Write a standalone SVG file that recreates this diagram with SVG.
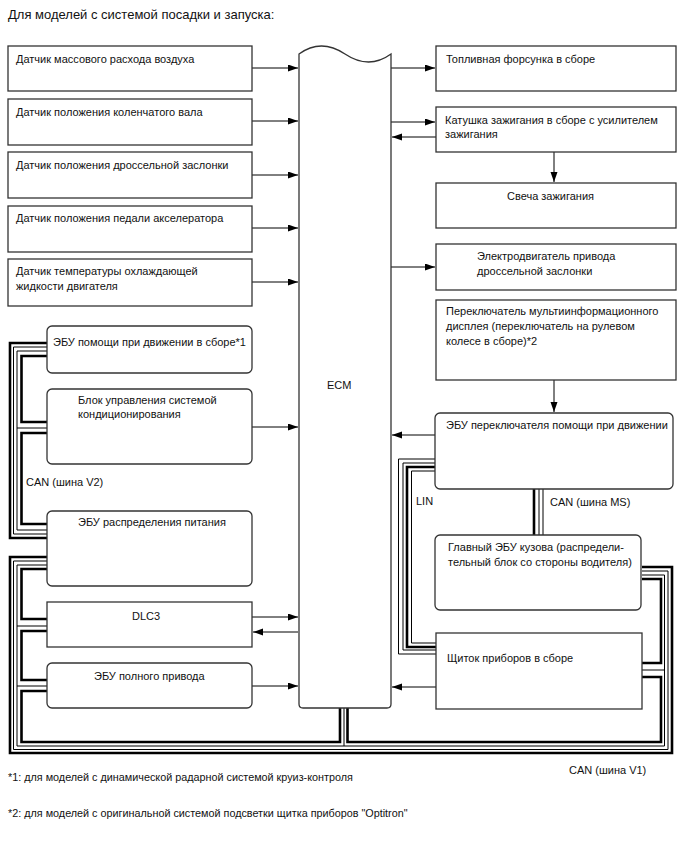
<svg xmlns="http://www.w3.org/2000/svg" width="688" height="852" viewBox="0 0 688 852">
<defs>
<marker id="ah" markerUnits="userSpaceOnUse" markerWidth="11" markerHeight="8" refX="10" refY="3.5" orient="auto">
<path d="M0,0 L10,3.5 L0,7 z" fill="#000"/>
</marker>
<style>
text{font-family:"Liberation Sans",Arial,sans-serif;font-size:11px;fill:#111}
.title{font-size:13px}
.fn{font-size:10.8px}
.box{fill:#fff;stroke:#333;stroke-width:1.3}
.arr{fill:none;stroke:#000;stroke-width:1;marker-end:url(#ah)}
.tk{fill:none;stroke:#000;stroke-width:2.6}
.tn{fill:none;stroke:#000;stroke-width:1}
</style>
</defs>
<rect width="688" height="852" fill="#fff"/>
<text class="title" x="8" y="19">Для моделей с системой посадки и запуска:</text>

<g id="connectors">
<path class="arr" d="M252,68 H298"/>
<path class="arr" d="M252,121 H298"/>
<path class="arr" d="M252,175 H298"/>
<path class="arr" d="M252,228 H298"/>
<path class="arr" d="M252,282 H298"/>
<path class="arr" d="M252,427 H298"/>
<path class="arr" d="M252,617 H298"/>
<path class="arr" d="M298,632 H253"/>
<path class="arr" d="M252,686 H298"/>
<path class="arr" d="M391,68 H435"/>
<path class="arr" d="M391,122 H435"/>
<path class="arr" d="M436,137 H392"/>
<path class="arr" d="M554,152 V182"/>
<path class="arr" d="M391,267 H435"/>
<path class="arr" d="M554,380 V412"/>
<path class="arr" d="M435,435 H392"/>
<path class="arr" d="M436,687 H392"/>

<path class="tk" d="M47,343 H10 V538 H47"/>
<path class="tn" d="M47,347 H13.5 V534 H47"/>
<path class="tn" d="M47,351 H17 V530 H47 M17,428 H47"/>
<path class="tk" d="M47,356 H21.5 V422 H47"/>
<path class="tk" d="M47,433 H21.5 V524 H47"/>

<path class="tk" d="M47,557 H10 V753 H672 V567 H642"/>
<path class="tn" d="M47,561 H13.5 V749.5 H668 V571 H642"/>
<path class="tn" d="M47,565 H17 V746 H664.5 V575 H642 M17,626 H47 M17,686 H47 M344,708 V746 M664.5,670 H642"/>
<path class="tk" d="M47,569 H21.5 V619 H47"/>
<path class="tk" d="M47,631 H21.5 V680 H47"/>
<path class="tk" d="M47,691 H21.5 V742 H340 V708"/>
<path class="tk" d="M347.5,708 V742 H661 V677 H642"/>
<path class="tk" d="M642,663 H661 V579 H642"/>

<path class="tn" d="M435,459 H398.5 V654 H436"/>
<path class="tn" d="M435,463 H403 V650 H436"/>
<path class="tk" d="M435,467 H407 V647 H436"/>
<path class="tn" d="M435,471 H411.5 V643 H436"/>

<path class="tk" d="M534,489 V535"/>
<path class="tn" d="M539,489 V535"/>
<path class="tn" d="M543,489 V535"/>
</g>

<g id="ecm">
<path class="box" d="M299,54 Q321,38 345,54 T391,54 V704 Q391,708 387,708 H303 Q299,708 299,704 Z"/>
<text x="327" y="389">ECM</text>
</g>

<g id="maf"><rect class="box" x="8" y="46" width="244" height="45"/><text x="16" y="63">Датчик массового расхода воздуха</text></g>
<g id="ckp"><rect class="box" x="8" y="99" width="244" height="46"/><text x="16" y="116">Датчик положения коленчатого вала</text></g>
<g id="tps"><rect class="box" x="8" y="152" width="244" height="46"/><text x="16" y="169">Датчик положения дроссельной заслонки</text></g>
<g id="app"><rect class="box" x="8" y="206" width="244" height="46"/><text x="16" y="222">Датчик положения педали акселератора</text></g>
<g id="ect"><rect class="box" x="8" y="259" width="244" height="47"/><text x="16" y="275">Датчик температуры охлаждающей</text><text x="16" y="290">жидкости двигателя</text></g>

<g id="drive-assist"><rect class="box" x="47" y="326" width="205" height="47" rx="5"/><text x="53" y="346">ЭБУ помощи при движении в сборе*1</text></g>
<g id="ac"><rect class="box" x="47" y="389" width="205" height="75" rx="5"/><text x="78" y="404">Блок управления системой</text><text x="78" y="418">кондиционирования</text></g>
<text x="26" y="486">CAN (шина V2)</text>
<g id="power-dist"><rect class="box" x="47" y="511" width="205" height="75" rx="5"/><text x="78" y="526">ЭБУ распределения питания</text></g>
<g id="dlc3"><rect class="box" x="47" y="602" width="205" height="45"/><text x="132" y="620">DLC3</text></g>
<g id="awd"><rect class="box" x="47" y="663" width="205" height="45" rx="5"/><text x="94" y="680">ЭБУ полного привода</text></g>

<g id="injector"><rect class="box" x="436" y="46" width="240" height="45"/><text x="446" y="63">Топливная форсунка в сборе</text></g>
<g id="coil"><rect class="box" x="436" y="107" width="240" height="45"/><text x="445" y="124">Катушка зажигания в сборе с усилителем</text><text x="445" y="138">зажигания</text></g>
<g id="plug"><rect class="box" x="436" y="183" width="240" height="45"/><text x="507" y="200">Свеча зажигания</text></g>
<g id="throttle-motor"><rect class="box" x="436" y="244" width="240" height="46"/><text x="477" y="260">Электродвигатель привода</text><text x="477" y="275">дроссельной заслонки</text></g>
<g id="multi-switch"><rect class="box" x="436" y="300" width="240" height="80"/><text x="446" y="315">Переключатель мультиинформационного</text><text x="446" y="330">дисплея (переключатель на рулевом</text><text x="446" y="345">колесе в сборе)*2</text></g>
<g id="assist-switch"><rect class="box" x="435" y="413" width="238" height="76" rx="5"/><text x="446" y="429">ЭБУ переключателя помощи при движении</text></g>
<text x="416" y="505">LIN</text>
<text x="550" y="506">CAN (шина MS)</text>
<g id="body-ecu"><rect class="box" x="435" y="535" width="206" height="75" rx="5"/><text x="448" y="551">Главный ЭБУ кузова (распредели-</text><text x="448" y="566">тельный блок со стороны водителя)</text></g>
<g id="meter"><rect class="box" x="436" y="633" width="206" height="76"/><text x="447" y="662">Щиток приборов в сборе</text></g>

<text x="569" y="774">CAN (шина V1)</text>
<text class="fn" x="8" y="781">*1: для моделей с динамической радарной системой круиз-контроля</text>
<text class="fn" x="8" y="817">*2: для моделей с оригинальной системой подсветки щитка приборов "Optitron"</text>
</svg>
